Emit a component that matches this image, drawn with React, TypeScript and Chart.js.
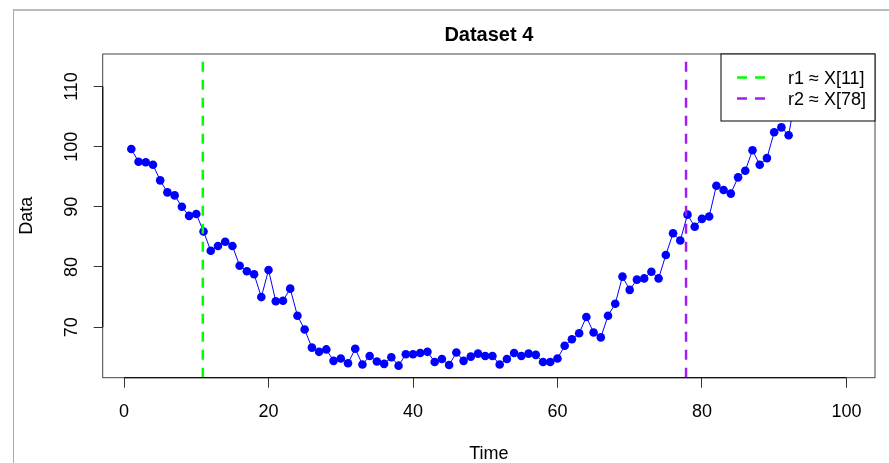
import React, { useEffect, useRef } from 'react';
import { Chart, registerables } from 'chart.js';

Chart.register(...registerables);

const chartTitle = 'Dataset 4';
const xTitle = 'Time';
const yTitle = 'Data';

const timeIndex = [
  1, 2, 3, 4, 5, 6, 7, 8, 9, 10,
  11, 12, 13, 14, 15, 16, 17, 18, 19, 20,
  21, 22, 23, 24, 25, 26, 27, 28, 29, 30,
  31, 32, 33, 34, 35, 36, 37, 38, 39, 40,
  41, 42, 43, 44, 45, 46, 47, 48, 49, 50,
  51, 52, 53, 54, 55, 56, 57, 58, 59, 60,
  61, 62, 63, 64, 65, 66, 67, 68, 69, 70,
  71, 72, 73, 74, 75, 76, 77, 78, 79, 80,
  81, 82, 83, 84, 85, 86, 87, 88, 89, 90,
  91, 92, 93, 94, 95, 96, 97, 98, 99, 100,
];

const dataValues = [
  99.6, 97.5, 97.4, 97.0, 94.4, 92.4, 91.9, 90.0, 88.5, 88.8,
  85.9, 82.7, 83.5, 84.2, 83.5, 80.2, 79.3, 78.8, 75.0, 79.5,
  74.3, 74.4, 76.4, 71.9, 69.6, 66.6, 65.9, 66.3, 64.4, 64.8,
  64.0, 66.4, 63.8, 65.2, 64.3, 63.9, 65.0, 63.6, 65.5, 65.5,
  65.7, 65.9, 64.2, 64.7, 63.7, 65.8, 64.4, 65.1, 65.6, 65.2,
  65.2, 63.8, 64.7, 65.7, 65.2, 65.6, 65.4, 64.2, 64.2, 64.8,
  66.9, 68.0, 69.0, 71.7, 69.1, 68.3, 71.9, 73.9, 78.4, 76.2,
  77.9, 78.1, 79.2, 78.1, 82.0, 85.6, 84.4, 88.7, 86.7, 88.0,
  88.4, 93.5, 92.8, 92.2, 94.9, 96.0, 99.4, 97.0, 98.1, 102.4,
  103.2, 101.9, 108.6, 107.5, 109.8, 110.6, 110.2, 112.1, 111.7, 113.4,
];

const xTickValues = [0, 20, 40, 60, 80, 100];
const yTickValues = [70, 80, 90, 100, 110];
const xRange = [-2.96, 103.96];
const yRange = [61.6, 115.4];

const changePoints = [10.9, 77.8];
const changeLabels = ['r1 \u2248 X[11]', 'r2 \u2248 X[78]'];
const changeColors = ['#00FF00', '#A020F0'];

const FONT = "'Liberation Sans', Arial, Helvetica, sans-serif";

export default function App() {
  const ref = useRef<HTMLCanvasElement>(null);

  useEffect(() => {
    const canvas = ref.current;
    if (!canvas) return;

    const overlay = {
      id: 'rOverlay',
      afterDatasetsDraw(chart: any) {
        const { ctx, chartArea: a, scales } = chart;
        const x = scales.x;
        ctx.save();
        ctx.beginPath();
        ctx.rect(a.left, a.top, a.right - a.left, a.bottom - a.top);
        ctx.clip();
        changePoints.forEach((cp, i) => {
          const px = x.getPixelForValue(cp);
          ctx.strokeStyle = changeColors[i];
          ctx.lineWidth = 2.5;
          ctx.setLineDash([10, 8]);
          ctx.beginPath();
          ctx.moveTo(px, a.bottom);
          ctx.lineTo(px, a.top);
          ctx.stroke();
        });
        ctx.restore();
      },
      afterDraw(chart: any) {
        const { ctx, chartArea: a, scales } = chart;
        const x = scales.x;
        const y = scales.y;
        ctx.save();
        // plot box
        ctx.setLineDash([]);
        ctx.strokeStyle = '#444';
        ctx.lineWidth = 1;
        ctx.strokeRect(a.left, a.top, a.right - a.left, a.bottom - a.top);
        // axis lines
        ctx.strokeStyle = '#111';
        ctx.lineWidth = 1.3;
        ctx.beginPath();
        ctx.moveTo(x.getPixelForValue(xTickValues[0]), a.bottom);
        ctx.lineTo(x.getPixelForValue(xTickValues[xTickValues.length - 1]), a.bottom);
        ctx.moveTo(a.left, y.getPixelForValue(yTickValues[0]));
        ctx.lineTo(a.left, y.getPixelForValue(yTickValues[yTickValues.length - 1]));
        ctx.stroke();

        // title
        ctx.fillStyle = '#000';
        ctx.font = `bold 20px ${FONT}`;
        ctx.textAlign = 'center';
        ctx.textBaseline = 'middle';
        ctx.fillText(chartTitle, (a.left + a.right) / 2, a.top - 19);

        // legend
        const lw = 154;
        const lh = 67;
        const lx = a.right - lw;
        const ly = a.top;
        ctx.fillStyle = '#fff';
        ctx.fillRect(lx, ly, lw, lh);
        ctx.strokeStyle = '#000';
        ctx.lineWidth = 1;
        ctx.strokeRect(lx, ly, lw, lh);
        changeLabels.forEach((lab, i) => {
          const cy = ly + 23.5 + i * 21;
          ctx.strokeStyle = changeColors[i];
          ctx.lineWidth = 2.5;
          ctx.setLineDash([10, 8]);
          ctx.beginPath();
          ctx.moveTo(lx + 16, cy);
          ctx.lineTo(lx + 47, cy);
          ctx.stroke();
          ctx.setLineDash([]);
          ctx.fillStyle = '#000';
          ctx.font = `18px ${FONT}`;
          ctx.textAlign = 'left';
          ctx.textBaseline = 'middle';
          ctx.fillText(lab, lx + 67, cy + 2);
        });
        ctx.restore();
      },
    };

    const chart = new Chart(canvas, {
      type: 'line',
      data: {
        datasets: [
          {
            data: timeIndex.map((t, i) => ({ x: t, y: dataValues[i] })),
            borderColor: '#0000FF',
            backgroundColor: '#0000FF',
            borderWidth: 1,
            pointRadius: 4.3,
            pointBorderWidth: 0,
            pointBackgroundColor: '#0000FF',
            tension: 0,
          },
        ],
      },
      options: {
        responsive: false,
        animation: false,
        devicePixelRatio: 1,
        events: [],
        layout: { padding: { top: 54, right: 14, left: 0, bottom: 0 } },
        plugins: {
          legend: { display: false },
          tooltip: { enabled: false },
          title: { display: false },
        },
        scales: {
          x: {
            type: 'linear',
            min: xRange[0],
            max: xRange[1],
            afterBuildTicks: (s: any) => {
              s.ticks = xTickValues.map((v) => ({ value: v }));
            },
            afterFit: (s: any) => {
              s.height = 85.3;
            },
            grid: {
              display: true,
              drawOnChartArea: false,
              drawTicks: true,
              tickLength: 10,
              tickColor: '#333',
              tickWidth: 1,
            },
            border: { display: false },
            ticks: {
              color: '#000',
              font: { family: FONT, size: 18 },
              padding: 14,
              maxRotation: 0,
              autoSkip: false,
            },
            title: {
              display: true,
              text: xTitle,
              color: '#000',
              font: { family: FONT, size: 18, lineHeight: 1 },
              padding: { top: 0, bottom: 0 },
            },
          },
          y: {
            type: 'linear',
            min: yRange[0],
            max: yRange[1],
            afterBuildTicks: (s: any) => {
              s.ticks = yTickValues.map((v) => ({ value: v }));
            },
            afterFit: (s: any) => {
              s.width = 102.7;
            },
            grid: {
              display: true,
              drawOnChartArea: false,
              drawTicks: true,
              tickLength: 9,
              tickColor: '#333',
              tickWidth: 1,
            },
            border: { display: false },
            ticks: {
              color: '#000',
              font: { family: FONT, size: 18 },
              padding: 6.7,
              minRotation: 90,
              maxRotation: 90,
              crossAlign: 'center',
              autoSkip: false,
            },
            title: {
              display: true,
              text: yTitle,
              color: '#000',
              font: { family: FONT, size: 18, lineHeight: 1 },
              padding: { top: 18, bottom: 0 },
            },
          },
        },
      },
      plugins: [overlay],
    } as any);

    return () => chart.destroy();
  }, []);

  return (
    <div style={{ position: 'fixed', left: 0, top: 0, width: 889, height: 463, background: '#fff', overflow: 'hidden' }}>
      <div
        style={{
          position: 'absolute',
          left: 13,
          top: 9,
          width: 1000,
          height: 1000,
          borderLeft: '1px solid #aaa',
          borderTop: '2px solid #bbb',
        }}
      />
      <canvas ref={ref} width={889} height={463} style={{ position: 'absolute', left: 0, top: 0, display: 'block' }} />
    </div>
  );
}
